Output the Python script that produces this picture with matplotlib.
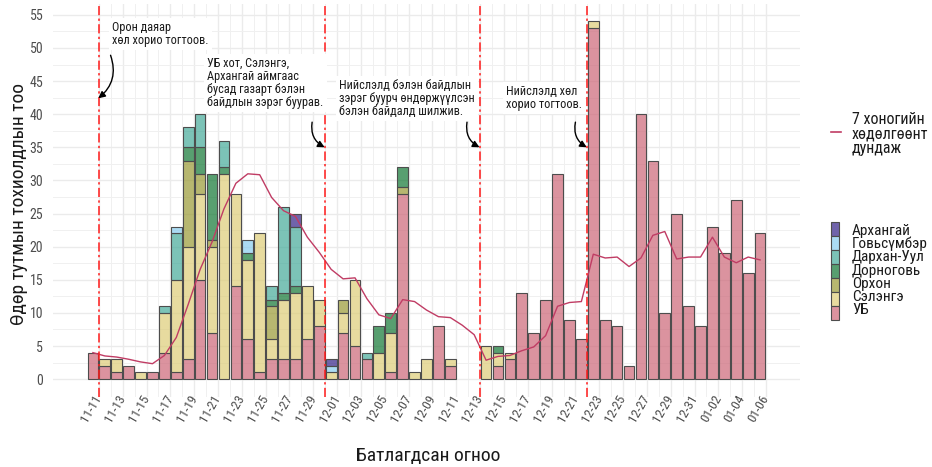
import numpy as np
import pandas as pd
import matplotlib
matplotlib.use('Agg')
import matplotlib.pyplot as plt
from matplotlib.patches import Rectangle
from matplotlib.lines import Line2D
from matplotlib.colors import to_rgba

plt.rcParams['font.family'] = ['Roboto Condensed', 'DejaVu Sans']

# daily confirmed cases by region, 2020-11-10 .. 2021-01-05
start = pd.Timestamp('2020-11-10')
dates = pd.date_range(start, '2021-01-05')

ub         = [4, 2, 1, 2, 0, 1, 4, 1, 3, 15, 7, 0, 14, 6, 1, 3, 3, 3, 6, 8,
              0, 7, 5, 3, 0, 1, 28, 0, 0, 8, 2, 0, 0, 0, 2, 3, 13, 7, 12, 31,
              9, 6, 53, 9, 8, 2, 40, 33, 10, 25, 11, 8, 23, 19, 27, 16, 22]
selenge    = [0, 1, 2, 0, 1, 0, 6, 14, 17, 13, 13, 31, 14, 12, 21, 3, 9, 10, 8, 4,
              1, 3, 10, 0, 4, 6, 0, 1, 3, 0, 1, 0, 0, 5, 2, 1, 0, 0, 0, 0,
              0, 0, 1, 0, 0, 0, 0, 0, 0, 0, 0, 0, 0, 0, 0, 0, 0]
orkhon     = [0, 0, 0, 0, 0, 0, 0, 0, 13, 3, 1, 0, 0, 0, 0, 5, 0, 0, 0, 0,
              0, 2, 0, 0, 0, 0, 1, 0, 0, 0, 0, 0, 0, 0, 0, 0, 0, 0, 0, 0,
              0, 0, 0, 0, 0, 0, 0, 0, 0, 0, 0, 0, 0, 0, 0, 0, 0]
dornogovi  = [0, 0, 0, 0, 0, 0, 0, 0, 2, 4, 10, 1, 0, 1, 0, 1, 1, 1, 0, 0,
              0, 0, 0, 0, 4, 3, 3, 0, 0, 0, 0, 0, 0, 0, 1, 0, 0, 0, 0, 0,
              0, 0, 0, 0, 0, 0, 0, 0, 0, 0, 0, 0, 0, 0, 0, 0, 0]
darkhan    = [0, 0, 0, 0, 0, 0, 1, 7, 3, 5, 0, 4, 0, 0, 0, 2, 13, 9, 0, 0,
              0, 0, 0, 1, 0, 0, 0, 0, 0, 0, 0, 0, 0, 0, 0, 0, 0, 0, 0, 0,
              0, 0, 0, 0, 0, 0, 0, 0, 0, 0, 0, 0, 0, 0, 0, 0, 0]
govisumber = [0, 0, 0, 0, 0, 0, 0, 1, 0, 0, 0, 0, 0, 2, 0, 0, 0, 0, 0, 0,
              1, 0, 0, 0, 0, 0, 0, 0, 0, 0, 0, 0, 0, 0, 0, 0, 0, 0, 0, 0,
              0, 0, 0, 0, 0, 0, 0, 0, 0, 0, 0, 0, 0, 0, 0, 0, 0]
arkhangai  = [0, 0, 0, 0, 0, 0, 0, 0, 0, 0, 0, 0, 0, 0, 0, 0, 0, 2, 0, 0,
              1, 0, 0, 0, 0, 0, 0, 0, 0, 0, 0, 0, 0, 0, 0, 0, 0, 0, 0, 0,
              0, 0, 0, 0, 0, 0, 0, 0, 0, 0, 0, 0, 0, 0, 0, 0, 0]

# 7-day moving average line
ma7 = [4.0, 3.5, 3.33, 3.0, 2.6, 2.33, 3.57, 6.29, 11.29, 16.57, 20.71, 25.71,
       29.57, 31.0, 30.86, 27.43, 25.43, 24.57, 21.43, 19.14, 16.57, 15.14,
       15.29, 12.14, 9.71, 9.14, 12.0, 11.71, 10.43, 9.43, 9.29, 8.14, 6.71,
       2.86, 3.43, 3.57, 4.29, 4.86, 6.57, 11.0, 11.57, 11.71, 18.86, 18.29,
       18.43, 17.0, 18.29, 21.71, 22.29, 18.14, 18.43, 18.43, 21.43, 18.43,
       17.57, 18.43, 18.0]

regions = ['УБ', 'Сэлэнгэ', 'Орхон', 'Дорноговь', 'Дархан-Уул', 'Говьсүмбэр', 'Архангай']
colors  = ['#CC6677', '#DDCC77', '#999933', '#117733', '#44AA99', '#88CCEE', '#332288']
counts  = [ub, selenge, orkhon, dornogovi, darkhan, govisumber, arkhangai]

event_dates = ['2020-11-11', '2020-11-30', '2020-12-13', '2020-12-22']
event_texts = ['Орон даяар\nхөл хорио тогтоов.',
               'УБ хот, Сэлэнгэ,\nАрхангай аймгаас\nбусад газарт бэлэн\nбайдлын зэрэг буурав.',
               'Нийслэлд бэлэн байдлын\nзэрэг буурч өндөржүүлсэн\nбэлэн байдалд шилжив.',
               'Нийслэлд хөл\nхорио тогтоов.']
tick_dates = pd.date_range('2020-11-11', '2021-01-06', freq='2D')

W, H = 932, 467
fig = plt.figure(figsize=(W/100, H/100), dpi=100)
ax = fig.add_axes([53/W, 70/H, 747/W, 393.4/H])

x = np.array((dates - start).days)
bottom = np.zeros(len(x))
for name, col, vals in zip(regions, colors, counts):
    vals = np.array(vals)
    nz = vals > 0
    ax.bar(x[nz] + 0.5, vals[nz], width=0.9, bottom=bottom[nz], color=to_rgba(col, 0.7),
           edgecolor='#4d4d4d', linewidth=0.8, zorder=2)
    bottom += vals

line_col = '#c03c64'
ax.plot(x + 0.5, ma7, color=line_col, lw=1.0, zorder=3)

ev_x = [(pd.Timestamp(d) - start).days for d in event_dates]
for ex in ev_x:
    ax.axvline(ex, color='#ff1a1a', lw=1.1, ls=(0, (6, 2.2, 1.5, 2.2)), zorder=3)

# annotation labels and curved arrows
text_pos = [(2.1, 54.0), (10.1, 48.6), (21.15, 45.3), (35.2, 44.4)]
arrow_from = [(1.98, 48.9), (18.9, 38.8), (31.9, 38.8), (41.0, 38.8)]
arrow_to_y = [42.4, 35.0, 35.0, 35.0]
arrow_rad = [-0.35, 0.35, 0.35, 0.35]
for txt, (tx, ty), (sx, sy), ex, ey, rad in zip(event_texts, text_pos, arrow_from,
                                                ev_x, arrow_to_y, arrow_rad):
    ax.text(tx, ty, txt, ha='left', va='top', fontsize=8.8, linespacing=0.98,
            color='#1a1a1a', zorder=5,
            bbox=dict(boxstyle='square,pad=0.25', fc='white', ec='none'))
    ax.annotate('', xy=(ex - 0.05, ey), xytext=(sx, sy), zorder=6,
                arrowprops=dict(arrowstyle='-|>', color='black', lw=1.0,
                                mutation_scale=10, shrinkA=0, shrinkB=0,
                                connectionstyle='arc3,rad=%s' % rad))

ax.set_xlim(-2.85, 59.85)
ax.set_ylim(-2.7, 56.7)
tick_x = np.array((tick_dates - start).days)
ax.set_xticks(tick_x)
ax.set_xticklabels(tick_dates.strftime('%m-%d'), rotation=60, ha='right', va='center',
                   rotation_mode='anchor')
ax.set_xticks(tick_x[:-1] + 1, minor=True)
ax.set_yticks(np.arange(0, 56, 5))
ax.set_yticks(np.arange(2.5, 56, 5), minor=True)
ax.tick_params(axis='both', which='both', length=0, labelcolor='#4d4d4d')
ax.tick_params(axis='x', pad=-1, labelsize=9.5)
ax.tick_params(axis='y', pad=7, labelsize=10)
ax.grid(which='major', color='#ebebeb', lw=1.0, zorder=0)
ax.grid(which='minor', color='#f0f0f0', lw=0.7, zorder=0)
ax.set_axisbelow(True)
for s in ax.spines.values():
    s.set_visible(False)

ax.set_xlabel('Батлагдсан огноо', fontsize=14, color='#1a1a1a')
ax.xaxis.set_label_coords(0.502, -0.126)
ax.set_ylabel('Өдөр тутмын тохиолдлын тоо', fontsize=14, color='#1a1a1a')
ax.yaxis.set_label_coords(-0.033, 0.49)

# legends drawn in figure pixels
fx = lambda px: px / W
fy = lambda py: 1 - py / H
fig.add_artist(Line2D([fx(831), fx(841)], [fy(132), fy(132)], color=line_col, lw=1.2))
fig.text(fx(852), fy(134), '7 хоногийн\nхөдөлгөөнт\nдундаж', fontsize=11.5, va='center',
         ha='left', linespacing=1.0, color='#1a1a1a')

for i, (name, col) in enumerate(zip(regions[::-1], colors[::-1])):
    top = 222 + 14 * i
    fig.add_artist(Rectangle((fx(831), fy(top + 14)), 8 / W, 14 / H,
                             fc=to_rgba(col, 0.7), ec='#4d4d4d', lw=0.8))
    fig.text(fx(852), fy(231 + 13.2 * i), name, fontsize=11, va='center', ha='left',
             color='#1a1a1a')

fig.savefig('out.png', dpi=100)
